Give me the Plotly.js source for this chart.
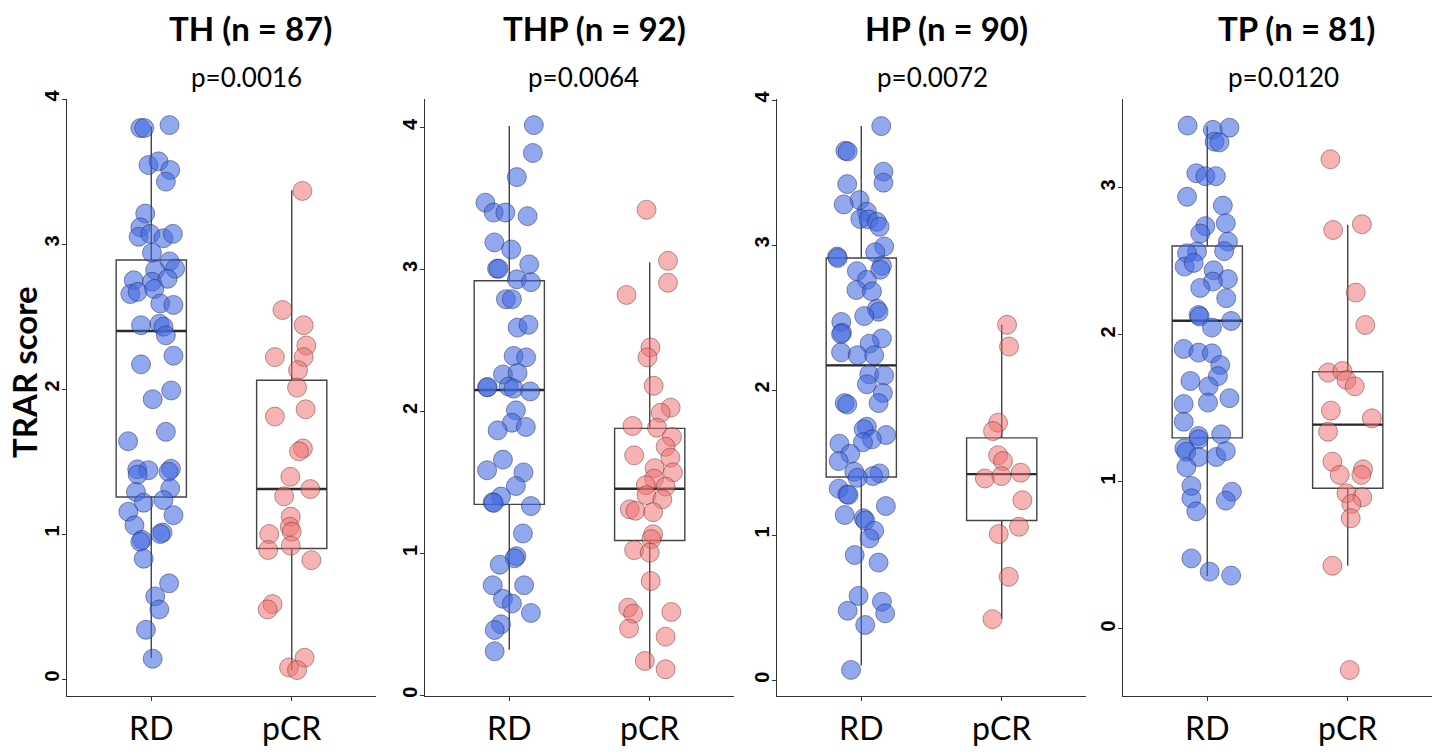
<!DOCTYPE html>
<html>
<head>
<meta charset="utf-8">
<script src="https://cdn.plot.ly/plotly-3.0.1.min.js"></script>
<style>html,body{margin:0;padding:0;background:#fff;}#chart{width:1441px;height:753px;}</style>
</head>
<body>
<div id="chart"></div>
<script>
// ---------------- DATA ----------------
const groups = ["RD", "pCR"];
const panelTitles = ["TH (n = 87)", "THP (n = 92)", "HP (n = 90)", "TP (n = 81)"];
const pValues = ["p=0.0016", "p=0.0064", "p=0.0072", "p=0.0120"];
const yAxisTitle = "TRAR score";

// box statistics per panel: [RD, pCR]
const boxQ1      = [[1.255, 0.90], [1.345, 1.09], [1.40, 1.10], [1.30, 0.957]];
const boxMedian  = [[2.40, 1.31], [2.15, 1.455], [2.17, 1.42], [2.097, 1.39]];
const boxQ3      = [[2.89, 2.06], [2.92, 1.88], [2.91, 1.67], [2.605, 1.75]];
const boxLower   = [[0.145, 0.06], [0.32, 0.19], [0.10, 0.425], [0.36, 0.43]];
const boxUpper   = [[3.81, 3.37], [4.01, 3.05], [3.82, 2.45], [3.42, 2.75]];

// TH panel
const th_rd_score = [3.80,3.80,3.82,3.545,3.57,3.51,3.43,3.21,3.115,3.05,3.07,3.04,3.07,2.94,2.88,2.83,2.82,2.75,2.74,2.76,2.655,2.67,2.69,2.59,2.58,2.44,2.45,2.43,2.37,2.23,2.17,1.93,1.99,1.705,1.64,1.446,1.44,1.41,1.45,1.43,1.29,1.315,1.216,1.234,1.154,1.13,1.06,1.01,1.0,0.96,0.947,0.83,0.66,0.57,0.48,0.34,0.14];
const th_rd_jitter = [-0.078,-0.05,0.13,-0.02,0.052,0.135,0.104,-0.043,-0.078,-0.09,-0.007,0.087,0.154,0.005,0.13,0.17,0.028,-0.125,0.005,0.116,-0.149,-0.097,0.021,0.064,0.158,-0.073,0.059,0.087,0.104,0.158,-0.073,0.01,0.142,0.104,-0.165,-0.10,-0.02,-0.097,0.14,0.123,-0.109,0.135,-0.054,0.087,-0.163,0.158,-0.12,0.08,0.064,-0.066,-0.078,-0.054,0.127,0.028,0.057,-0.038,0.01];
const th_pcr_score = [3.366,2.545,2.44,2.30,2.22,2.22,2.13,2.01,1.86,1.81,1.59,1.57,1.395,1.31,1.26,1.12,1.05,1.016,1.0,0.89,0.92,0.82,0.517,0.48,0.147,0.08,0.062];
const th_pcr_jitter = [0.076,-0.066,0.085,0.104,-0.12,0.085,0.045,0.038,0.099,-0.12,0.08,0.052,-0.01,0.132,-0.054,-0.007,-0.014,0,-0.16,-0.168,-0.007,0.14,-0.137,-0.172,0.092,-0.019,0.038];

// THP panel
const thp_rd_score = [4.016,3.82,3.65,3.47,3.40,3.40,3.375,3.19,3.14,3.035,3.005,3.005,2.93,2.91,2.79,2.79,2.59,2.61,2.39,2.38,2.26,2.27,2.17,2.17,2.175,2.16,2.14,2.007,1.92,1.866,1.89,1.66,1.585,1.57,1.474,1.40,1.36,1.355,1.333,1.14,0.98,0.965,0.92,0.775,0.775,0.68,0.646,0.58,0.50,0.46,0.31];
const thp_rd_jitter = [0.175,0.168,0.054,-0.17,-0.111,-0.028,0.13,-0.106,0.014,0.142,-0.087,-0.076,0.054,0.154,-0.024,0.019,0.059,0.137,0.031,0.12,-0.045,0.059,-0.158,-0.154,-0.005,0.031,0.149,0.047,0.019,-0.083,0.118,-0.045,-0.158,0.101,0.047,-0.059,-0.118,-0.111,0.154,0.097,0.05,0.038,-0.068,-0.118,0.106,-0.045,0.019,0.154,-0.059,-0.104,-0.104];
const thp_pcr_score = [3.42,3.06,2.906,2.82,2.45,2.38,2.18,2.026,1.99,1.897,1.885,1.82,1.75,1.674,1.69,1.60,1.57,1.526,1.48,1.47,1.41,1.38,1.31,1.30,1.29,1.134,1.10,1.023,1.005,0.805,0.617,0.575,0.587,0.47,0.413,0.242,0.183];
const thp_pcr_jitter = [-0.023,0.13,0.13,-0.165,0.005,-0.016,0.028,0.149,0.078,-0.123,0.052,0.158,0.113,0.147,-0.111,0.035,0.165,0.031,-0.028,0.113,-0.023,0.09,-0.142,-0.101,0.024,0.024,0.012,-0.111,0,0.007,-0.154,-0.118,0.154,-0.147,0.113,-0.035,0.113];

// HP panel
const hp_rd_score = [3.82,3.65,3.645,3.506,3.43,3.42,3.31,3.28,3.23,3.18,3.177,3.16,3.126,2.99,2.95,2.92,2.91,2.82,2.857,2.83,2.76,2.69,2.68,2.56,2.54,2.51,2.47,2.395,2.386,2.356,2.32,2.26,2.24,2.24,2.108,2.10,2.04,1.98,1.91,1.90,1.91,1.747,1.73,1.69,1.66,1.64,1.63,1.56,1.51,1.437,1.425,1.407,1.395,1.32,1.28,1.277,1.20,1.138,1.115,1.10,1.03,0.977,0.862,0.81,0.58,0.54,0.46,0.478,0.38,0.07];
const hp_rd_jitter = [0.142,-0.113,-0.097,0.158,0.158,-0.10,-0.012,-0.125,0.04,-0.007,0.052,0.111,0.13,0.163,0.099,-0.172,-0.168,-0.031,0.147,0.135,0.04,-0.035,0.076,0.111,0.123,0.021,-0.142,-0.137,-0.144,0.147,0.059,-0.144,-0.026,0.092,0.057,0.163,0.04,0.154,-0.118,-0.10,0.123,0.04,0.017,0.177,0.076,0.012,-0.156,-0.078,-0.161,-0.05,0.13,0.083,-0.026,-0.161,-0.10,-0.09,0.175,-0.118,0.017,0.028,0.092,0.059,-0.047,0.123,-0.019,0.147,0.17,-0.097,0.028,-0.073];
const hp_pcr_score = [2.45,2.30,1.775,1.717,1.55,1.51,1.39,1.407,1.43,1.24,1.057,1.007,0.712,0.42];
const hp_pcr_jitter = [0.038,0.052,-0.026,-0.062,-0.026,0.009,-0.12,-0.002,0.135,0.147,0.123,-0.021,0.05,-0.066];

// TP panel
const tp_rd_score = [3.424,3.395,3.41,3.315,3.31,3.10,3.08,3.08,2.94,2.88,2.76,2.74,2.69,2.635,2.57,2.567,2.556,2.465,2.49,2.44,2.38,2.363,2.32,2.25,2.136,2.125,2.095,2.05,1.905,1.88,1.875,1.796,1.72,1.687,1.65,1.57,1.53,1.54,1.41,1.313,1.29,1.324,1.229,1.206,1.17,1.17,1.21,1.10,0.973,0.934,0.889,0.873,0.80,0.48,0.39,0.363];
const tp_rd_jitter = [-0.14,0.04,0.158,0.052,0.087,-0.078,-0.014,0.061,-0.144,0.111,0.132,-0.014,-0.05,0.147,0.12,-0.073,-0.144,-0.161,-0.097,0.045,0.147,0.04,-0.05,0.135,-0.062,-0.054,0.17,0.033,-0.168,-0.062,0.033,0.092,0.076,-0.12,0.009,0.158,-0.168,0.005,-0.168,-0.062,-0.062,0.099,-0.163,-0.149,-0.062,0.064,0.132,-0.149,-0.113,0.175,-0.113,0.132,-0.078,-0.113,0.017,0.17];
const tp_pcr_score = [3.195,2.753,2.714,2.288,2.068,1.744,1.755,1.694,1.65,1.485,1.433,1.342,1.138,1.086,1.048,1.048,0.923,0.896,0.85,0.753,0.43,-0.279];
const tp_pcr_jitter = [-0.123,0.101,-0.104,0.057,0.125,-0.14,-0.038,-0.009,0.05,-0.12,0.172,-0.14,-0.109,0.109,0.097,-0.057,-0.009,0.104,0.026,0.021,-0.109,0.014];

const yRanges = [[-0.117, 4.0], [-0.005, 4.2], [-0.11, 4.007], [-0.456, 3.605]];
const yTicks = [[0,1,2,3,4], [0,1,2,3,4], [0,1,2,3,4], [0,1,2,3]];

// ---------------- BUILD ----------------
const panels = [
  [th_rd_score, th_rd_jitter, th_pcr_score, th_pcr_jitter],
  [thp_rd_score, thp_rd_jitter, thp_pcr_score, thp_pcr_jitter],
  [hp_rd_score, hp_rd_jitter, hp_pcr_score, hp_pcr_jitter],
  [tp_rd_score, tp_rd_jitter, tp_pcr_score, tp_pcr_jitter]
];
const W = 1441, H = 753;
const BOX_W = 0.5;
const xPix = [[67, 376], [425, 734], [777, 1086], [1123, 1432]];
const yDom = [1 - 696 / H, 1 - 99 / H];
const titleX = [250, 594, 946, 1296];
const pX = [246, 583, 932, 1283];
const fillColors = ["rgba(65,105,225,0.58)", "rgba(240,110,110,0.52)"];
const lineColors = ["rgba(30,40,90,0.55)", "rgba(90,40,40,0.5)"];

const traces = [];
const layout = {
  width: W, height: H,
  margin: {l: 0, r: 0, t: 0, b: 0},
  paper_bgcolor: "#fff", plot_bgcolor: "#fff",
  showlegend: false,
  annotations: []
};

panels.forEach((p, i) => {
  const sfx = i === 0 ? "" : String(i + 1);
  const xa = "x" + sfx, ya = "y" + sfx;
  for (let g = 0; g < 2; g++) {
    traces.push({
      type: "box", xaxis: xa, yaxis: ya,
      x: [g + 1],
      q1: [boxQ1[i][g]], median: [boxMedian[i][g]], q3: [boxQ3[i][g]],
      lowerfence: [boxLower[i][g]], upperfence: [boxUpper[i][g]],
      width: BOX_W, whiskerwidth: 0, boxpoints: false,
      fillcolor: "rgba(0,0,0,0)",
      line: {color: "#444", width: 1.4},
      hoverinfo: "skip"
    });
    traces.push({
      type: "scatter", mode: "lines", xaxis: xa, yaxis: ya,
      x: [g + 1 - BOX_W / 2, g + 1 + BOX_W / 2],
      y: [boxMedian[i][g], boxMedian[i][g]],
      line: {color: "#2a2a2a", width: 2.4},
      hoverinfo: "skip"
    });
  }
  for (let g = 0; g < 2; g++) {
    const vals = p[g * 2], jit = p[g * 2 + 1];
    traces.push({
      type: "scatter", mode: "markers", xaxis: xa, yaxis: ya,
      x: jit.map(j => g + 1 + j), y: vals,
      marker: {size: 19, color: fillColors[g], line: {color: lineColors[g], width: 0.9}},
      hoverinfo: "y"
    });
  }
  layout["xaxis" + sfx] = {
    domain: [xPix[i][0] / W, xPix[i][1] / W], anchor: ya,
    range: [0.4, 2.6], tickvals: [1, 2], ticktext: groups,
    showline: true, linecolor: "#333", linewidth: 1.3,
    ticks: "outside", ticklen: 4, tickcolor: "#333", tickwidth: 1,
    showgrid: false, zeroline: false,
    tickfont: {family: "Lato", size: 32, color: "#000"}
  };
  layout["yaxis" + sfx] = {
    domain: yDom, anchor: xa,
    range: yRanges[i], tickvals: yTicks[i], ticktext: yTicks[i].map(String),
    tickangle: -90, ticklabelstandoff: -5,
    showline: true, linecolor: "#333", linewidth: 1.3,
    ticks: "outside", ticklen: 4, tickcolor: "#333", tickwidth: 1,
    showgrid: false, zeroline: false,
    tickfont: {family: "Liberation Sans", size: 20, color: "#000", weight: "bold"}
  };
  layout.annotations.push({
    xref: "paper", yref: "paper", x: titleX[i] / W, y: 1 - 28 / H,
    text: "<b>" + panelTitles[i] + "</b>", showarrow: false,
    xanchor: "center", yanchor: "middle",
    font: {family: "Lato", size: 33, color: "#000"}
  });
  layout.annotations.push({
    xref: "paper", yref: "paper", x: pX[i] / W, y: 1 - 77 / H,
    text: pValues[i], showarrow: false,
    xanchor: "center", yanchor: "middle",
    font: {family: "Lato", size: 26, color: "#000"}
  });
});

layout.annotations.push({
  xref: "paper", yref: "paper", x: 24 / W, y: 1 - 372 / H,
  text: "<b>" + yAxisTitle + "</b>", showarrow: false, textangle: -90,
  xanchor: "center", yanchor: "middle",
  font: {family: "Lato", size: 33, color: "#000"}
});

Plotly.newPlot("chart", traces, layout, {staticPlot: true, displayModeBar: false});
</script>
</body>
</html>
